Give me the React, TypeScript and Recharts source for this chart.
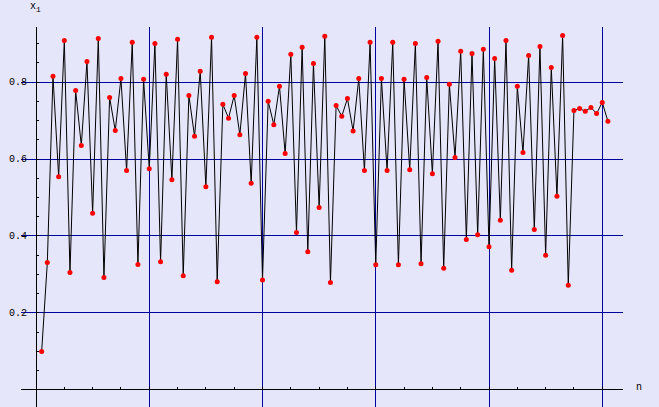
import { LineChart, Line, XAxis, YAxis, CartesianGrid, ReferenceLine } from "recharts";

// x_n values, n = 1..101
const xValues = [
  0.100, 0.331, 0.815, 0.554, 0.908, 0.305, 0.778, 0.635, 0.853, 0.459,
  0.913, 0.292, 0.760, 0.674, 0.809, 0.570, 0.903, 0.326, 0.807, 0.575,
  0.900, 0.333, 0.820, 0.546, 0.911, 0.297, 0.765, 0.659, 0.828, 0.528,
  0.916, 0.281, 0.742, 0.706, 0.765, 0.663, 0.822, 0.537, 0.916, 0.286,
  0.750, 0.689, 0.789, 0.614, 0.872, 0.409, 0.890, 0.359, 0.848, 0.474,
  0.919, 0.279, 0.739, 0.711, 0.757, 0.673, 0.809, 0.570, 0.903, 0.325,
  0.809, 0.570, 0.903, 0.325, 0.807, 0.572, 0.900, 0.328, 0.812, 0.562,
  0.906, 0.316, 0.794, 0.604, 0.880, 0.391, 0.874, 0.403, 0.885, 0.372,
  0.861, 0.441, 0.908, 0.311, 0.789, 0.617, 0.869, 0.417, 0.892, 0.350,
  0.838, 0.503, 0.921, 0.272, 0.726, 0.731, 0.724, 0.734, 0.718, 0.747,
  0.698,
];

const xTickLabels = [20, 40, 60, 80, 100];
const yTickLabels = [0.2, 0.4, 0.6, 0.8];
const xMinorTicks = [5, 10, 15, 20, 25, 30, 35, 40, 45, 50, 55, 60, 65, 70, 75, 80, 85, 90, 95, 100];
const yMinorTicks = [0.05, 0.1, 0.15, 0.2, 0.25, 0.3, 0.35, 0.4, 0.45, 0.5, 0.55, 0.6, 0.65, 0.7, 0.75, 0.8, 0.85, 0.9];

const data = xValues.map((v, i) => ({ n: i + 1, x: v }));

const BG = "#E6E6FA";
const GRID = "#00009C";
const FONT = "'Liberation Mono', 'DejaVu Sans Mono', monospace";

const XTick = ({ x, y, payload }: any) => (
  <text x={x} y={y - 1} textAnchor="middle" fontFamily={FONT} fontSize={10} fill="#000">
    {payload.value}
  </text>
);

const YTick = ({ x, y, payload }: any) => (
  <text x={x + 6} y={y + 3} textAnchor="end" fontFamily={FONT} fontSize={10} fill="#000">
    {Number(payload.value).toFixed(1)}
  </text>
);

export default function App() {
  return (
    <div style={{ position: "absolute", left: 0, top: 0, width: 659, height: 407, background: BG, overflow: "hidden" }}>
      <LineChart width={659} height={407} data={data} margin={{ top: 27, right: 36, bottom: 0, left: 0 }}>
        <CartesianGrid
          stroke={GRID}
          horizontalValues={yTickLabels}
          verticalValues={xTickLabels}
          fill="none"
          shapeRendering="crispEdges"
        />
        <XAxis
          dataKey="n"
          type="number"
          domain={[-2.649, 103.664]}
          allowDataOverflow
          ticks={xTickLabels}
          height={0}
          axisLine={false}
          tickLine={false}
          tickSize={0}
          tickMargin={0}
          tick={<XTick />}
        />
        <YAxis
          type="number"
          domain={[-0.0442, 0.9429]}
          allowDataOverflow
          ticks={yTickLabels}
          width={21}
          axisLine={false}
          tickLine={false}
          tickSize={0}
          tickMargin={0}
          tick={<YTick />}
        />
        <ReferenceLine y={0} stroke="#000" strokeWidth={1} shapeRendering="crispEdges" />
        <ReferenceLine x={0} stroke="#000" strokeWidth={1} shapeRendering="crispEdges" />
        {xMinorTicks.map((t) => (
          <ReferenceLine key={"xt" + t} segment={[{ x: t, y: 0 }, { x: t, y: 0.008 }]} stroke="#000" shapeRendering="crispEdges" />
        ))}
        {yMinorTicks.map((t) => (
          <ReferenceLine key={"yt" + t} segment={[{ x: 0, y: t }, { x: 0.55, y: t }]} stroke="#000" shapeRendering="crispEdges" />
        ))}
        <Line
          dataKey="x"
          type="linear"
          stroke="#000"
          strokeWidth={1}
          isAnimationActive={false}
          dot={{ r: 2.5, fill: "#FF0000", stroke: "none" }}
          activeDot={false}
        />
      </LineChart>
      <div style={{ position: "absolute", left: 30, top: 1, fontFamily: FONT, fontSize: 10, lineHeight: "12px" }}>
        x<sub style={{ fontSize: 8 }}>1</sub>
      </div>
      <div style={{ position: "absolute", left: 636, top: 382, fontFamily: FONT, fontSize: 10, lineHeight: "12px" }}>
        n
      </div>
    </div>
  );
}
